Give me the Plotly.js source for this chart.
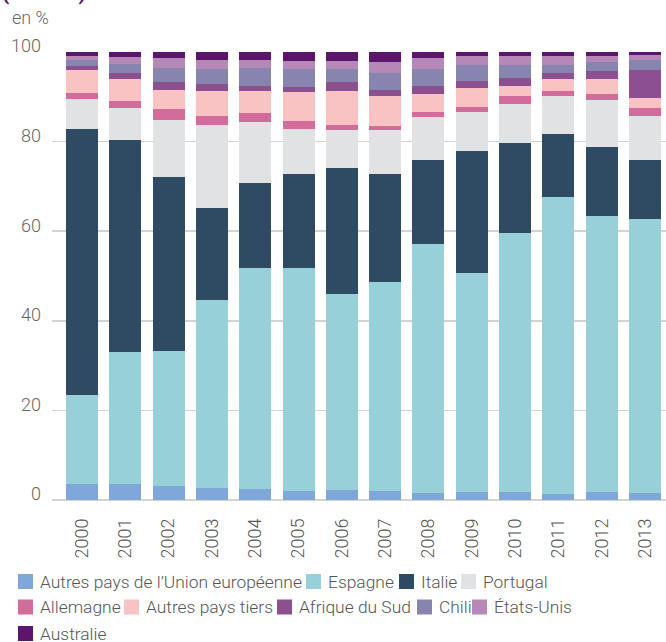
<!DOCTYPE html>
<html>
<head>
<meta charset="utf-8">
<script src="https://cdn.plot.ly/plotly-3.0.1.min.js"></script>
<style>html,body{margin:0;padding:0;background:#fff;}#chart{width:666px;height:642px;}</style>
</head>
<body>
<div id="chart"></div>
<script>
var years = ['2000','2001','2002','2003','2004','2005','2006','2007','2008','2009','2010','2011','2012','2013'];
var autresUE    = [3.6, 3.6, 3.1, 2.7, 2.5, 2.0, 2.2, 2.0, 1.6, 1.8, 1.8, 1.3, 1.8, 1.6];
var espagne     = [19.8, 29.4, 30.1, 41.9, 49.2, 49.7, 43.7, 46.6, 55.5, 48.8, 57.7, 66.3, 61.7, 61.1];
var italie      = [59.5, 47.3, 39.0, 20.5, 19.0, 21.0, 28.1, 24.1, 18.9, 27.2, 20.3, 14.0, 15.4, 13.1];
var portugal    = [6.7, 7.1, 12.7, 18.7, 13.6, 10.2, 8.7, 9.8, 9.6, 8.7, 8.5, 8.5, 10.3, 10.0];
var allemagne   = [1.2, 1.6, 2.3, 2.0, 2.0, 1.8, 1.1, 0.9, 1.1, 1.3, 1.8, 1.1, 1.5, 1.8];
var autresTiers = [5.1, 4.9, 4.4, 5.6, 4.9, 6.3, 7.6, 6.7, 4.0, 4.1, 2.4, 2.7, 3.2, 2.2];
var afriqueSud  = [0.9, 1.5, 1.6, 1.4, 1.3, 1.1, 1.8, 1.5, 1.8, 1.7, 1.6, 1.5, 1.8, 6.1];
var chili       = [1.5, 2.0, 3.3, 3.5, 4.0, 4.2, 2.9, 3.8, 3.8, 3.6, 2.9, 1.8, 2.0, 2.4];
var etatsUnis   = [0.9, 1.4, 2.1, 2.0, 1.8, 1.8, 1.8, 2.3, 2.3, 1.8, 2.0, 2.0, 1.5, 1.1];
var australie   = [0.8, 1.2, 1.4, 1.7, 1.7, 1.9, 2.1, 2.3, 1.4, 1.0, 1.0, 0.8, 0.8, 0.8];

var seriesNames = ["Autres pays de l’Union européenne", "Espagne", "Italie", "Portugal",
  "Allemagne", "Autres pays tiers", "Afrique du Sud", "Chili", "États-Unis", "Australie"];
var seriesValues = [autresUE, espagne, italie, portugal, allemagne, autresTiers, afriqueSud, chili, etatsUnis, australie];
var colors = ['#7FA7D9', '#98D0DA', '#2F4A63', '#E1E2E4', '#D26C9B', '#F9C3C4', '#8C4F8F', '#8884B0', '#B588B8', '#5B156A'];

var FONT = 'Roboto, "DejaVu Sans", sans-serif';
var W = 666, H = 642, L = 52, R = 0, T = 52, B = 142;
var pw = W - L - R, ph = H - T - B;
function px(x) { return (x - L) / pw; }
function py(y) { return (H - B - y) / ph; }

var traces = seriesNames.map(function(n, i) {
  return {
    type: 'bar', name: n, x: years, y: seriesValues[i],
    marker: {color: colors[i], line: {width: 0}},
    showlegend: false, hoverinfo: 'skip'
  };
});

var layout = {
  width: W, height: H,
  margin: {l: L, r: R, t: T, b: B, autoexpand: false},
  paper_bgcolor: '#ffffff', plot_bgcolor: '#ffffff',
  barmode: 'stack', bargap: 0.26,
  showlegend: false,
  font: {family: FONT, color: '#666666'},
  xaxis: {
    type: 'category', range: [-0.693, 13.485], fixedrange: true,
    showgrid: false, zeroline: false, showline: false, ticks: '',
    tickangle: -90, ticklabelstandoff: 14,
    tickfont: {family: FONT, size: 18, color: '#555555', weight: 300}
  },
  yaxis: {
    range: [0, 100], fixedrange: true,
    tickvals: [0, 20, 40, 60, 80, 100],
    showgrid: true, gridcolor: '#D3D3D3', gridwidth: 1.5,
    zeroline: true, zerolinecolor: '#D3D3D3', zerolinewidth: 1.5,
    showline: false, ticks: '', ticklabelstandoff: 10, ticklabelshift: -6,
    tickfont: {family: FONT, size: 18, color: '#666666', weight: 300}
  },
  shapes: [],
  annotations: [
    {text: '(volume)', xref: 'paper', yref: 'paper', x: px(0), y: py(-7), xanchor: 'left', yanchor: 'middle',
     showarrow: false, font: {family: FONT, size: 21, color: '#5B156A', weight: 700}},
    {text: 'en %', xref: 'paper', yref: 'paper', x: px(10), y: py(17), xanchor: 'left', yanchor: 'middle',
     showarrow: false, font: {family: FONT, size: 18, color: '#666666', weight: 300}}
  ]
};

// Legend (swatch + label), laid out in three rows like the reference
var legendSwatchX = [18, 306, 399, 461, 18, 124, 277, 417, 472, 18];
var legendRowY    = [581.5, 581.5, 581.5, 581.5, 607, 607, 607, 607, 607, 633.5];
var SW = 15;
seriesNames.forEach(function(n, i) {
  var x0 = legendSwatchX[i], yc = legendRowY[i];
  layout.shapes.push({
    type: 'rect', xref: 'paper', yref: 'paper',
    x0: px(x0), x1: px(x0 + SW), y0: py(yc + SW / 2), y1: py(yc - SW / 2),
    fillcolor: colors[i], line: {width: 0}, layer: 'above'
  });
  layout.annotations.push({
    text: n, xref: 'paper', yref: 'paper', x: px(x0 + SW + 5), y: py(yc),
    xanchor: 'left', yanchor: 'middle', showarrow: false,
    font: {family: FONT, size: 17.4, color: '#555555', weight: 300}
  });
});

Plotly.newPlot('chart', traces, layout, {staticPlot: true, displayModeBar: false});
</script>
</body>
</html>
